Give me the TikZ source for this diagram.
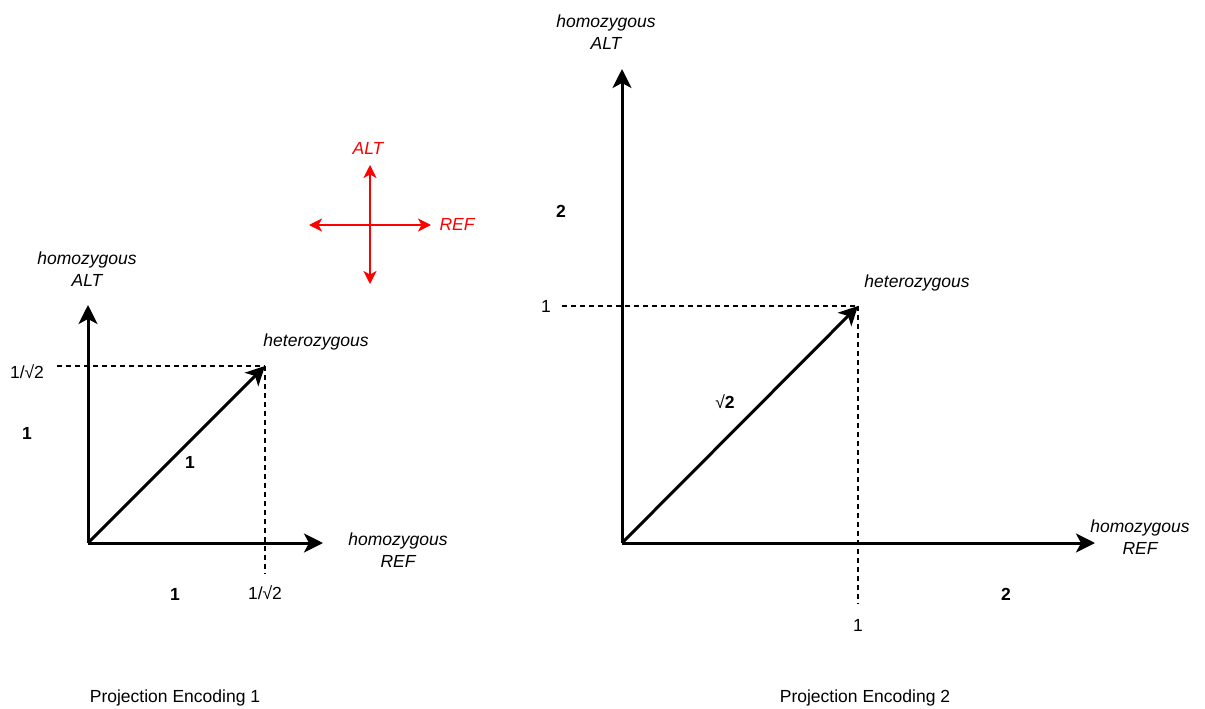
\documentclass[tikz,border=0pt]{standalone}
\usepackage{fontspec}
\setmainfont{Liberation Sans}
\usetikzlibrary{arrows.meta}
\tikzset{
  lbl/.style={font=\fontsize{17.5}{21.6}\selectfont, inner sep=0pt, align=center},
  ital/.style={lbl, font=\fontsize{17.5}{21.6}\selectfont\itshape},
  axis/.style={line width=3pt, -{Stealth[length=19pt,width=19pt,inset=5pt]}},
  guide/.style={line width=1.5pt, dash pattern=on 4.5pt off 4.5pt},
  redarr/.style={line width=1.5pt, red, {Stealth[length=13pt,width=13pt,inset=3.5pt]}-{Stealth[length=13pt,width=13pt,inset=3.5pt]}},
  redlbl/.style={ital, text=red}
}
\begin{document}
\begin{tikzpicture}[x=1pt,y=-1pt]
\useasboundingbox (0,0) rectangle (1205,709);
% ---------- left diagram ----------
\coordinate (O1) at (88,543);
\coordinate (Y1) at (88,305);
\coordinate (X1) at (323,543);
\coordinate (H1) at (265,366);
\coordinate (HL1) at (57,366);
\coordinate (HB1) at (265,574);
\draw[guide] (HL1) -- (H1);
\draw[guide] (H1) -- (HB1);
\draw[axis] (O1) -- (Y1);
\draw[axis] (O1) -- (X1);
\draw[axis] (O1) -- (H1);
\node[ital] (altA) at (87,269) {homozygous\\ALT};
\node[ital] (refA) at (398,550) {homozygous\\REF};
\node[ital] (hetA) at (316,342) {heterozygous};
\node[lbl] (ylA) at (27,372) {1/√2};
\node[lbl] (xlA) at (265,593) {1/√2};
\node[lbl,font=\fontsize{17.5}{21.6}\selectfont\bfseries] (oneA) at (27,433) {1};
\node[lbl,font=\fontsize{17.5}{21.6}\selectfont\bfseries] (oneB) at (190,462) {1};
\node[lbl,font=\fontsize{17.5}{21.6}\selectfont\bfseries] (oneC) at (175,594) {1};
\node[lbl] (capA) at (175,698) {Projection Encoding 1};
% ---------- red cross ----------
\coordinate (RT) at (370,165);
\coordinate (RB) at (370,284);
\coordinate (RL) at (309,225);
\coordinate (RR) at (431,225);
\draw[redarr] (RB) -- (RT);
\draw[redarr] (RL) -- (RR);
\node[redlbl] (altR) at (368,148) {ALT};
\node[redlbl] (refR) at (457,224) {REF};
% ---------- right diagram ----------
\coordinate (O2) at (622,543);
\coordinate (Y2) at (622,69);
\coordinate (X2) at (1095,543);
\coordinate (H2) at (858,306);
\coordinate (HL2) at (562,306);
\coordinate (HB2) at (858,604);
\draw[guide] (HL2) -- (H2);
\draw[guide] (H2) -- (HB2);
\draw[axis] (O2) -- (Y2);
\draw[axis] (O2) -- (X2);
\draw[axis] (O2) -- (H2);
\node[ital] (altB) at (606,32) {homozygous\\ALT};
\node[ital] (refB) at (1140,537) {homozygous\\REF};
\node[ital] (hetB) at (917,283) {heterozygous};
\node[lbl] (ylB) at (546,306) {1};
\node[lbl] (xlB) at (858,625) {1};
\node[lbl,font=\fontsize{17.5}{21.6}\selectfont\bfseries] (twoA) at (561,211) {2};
\node[lbl,font=\fontsize{17.5}{21.6}\selectfont\bfseries] (twoB) at (1006,594) {2};
\node[lbl] (sq) at (725,402) {√\textbf{2}};
\node[lbl] (capB) at (865,698) {Projection Encoding 2};
\end{tikzpicture}
\end{document}
